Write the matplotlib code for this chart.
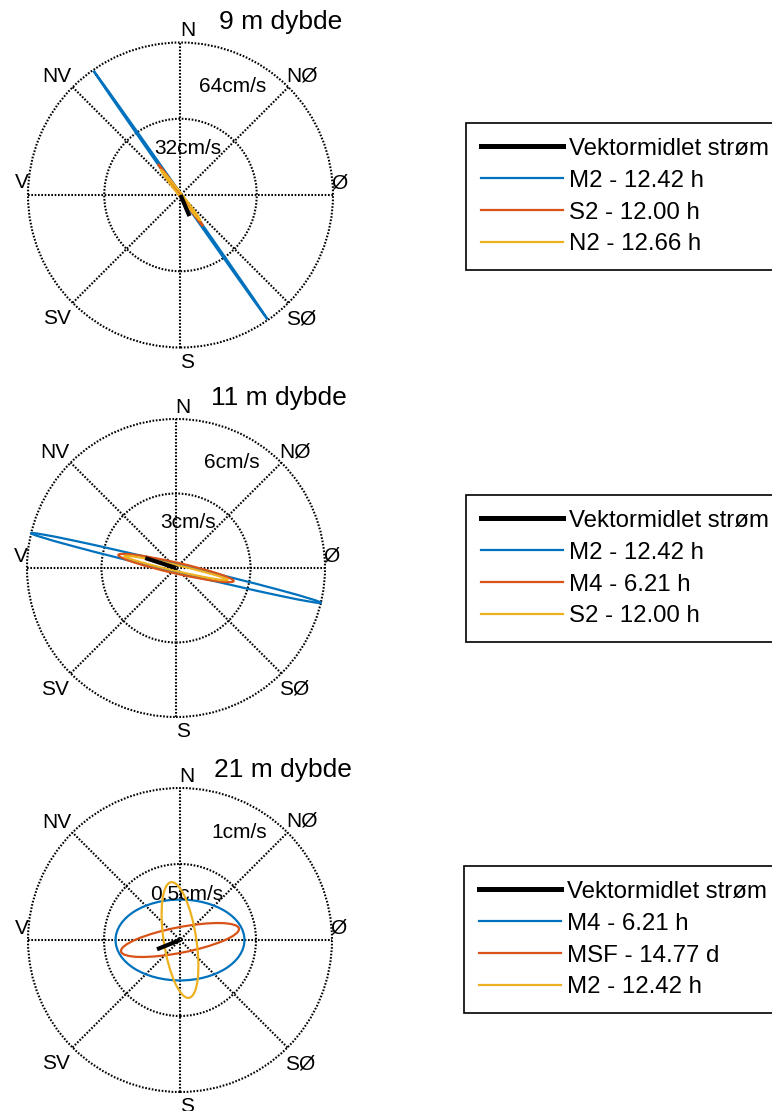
import matplotlib
matplotlib.use('Agg')
import matplotlib.pyplot as plt
import numpy as np
from matplotlib.patches import Circle, Ellipse
from matplotlib.lines import Line2D

plt.rcParams['font.family'] = ['Liberation Sans', 'DejaVu Sans']

# --- data ---
titles = ['9 m dybde', '11 m dybde', '21 m dybde']
rmax = [64, 6, 1]
ring_labels = [['64cm/s', '32cm/s'], ['6cm/s', '3cm/s'], ['1cm/s', '0.5cm/s']]

# vector mean current: speed (cm/s) and direction (deg from north, clockwise)
mean_speed = [9.6, 1.3, 0.163]
mean_dir = [157, 288, 248]

# tidal ellipses per depth: name, semi-major, semi-minor (cm/s), major axis bearing (deg)
const_names = [['M2 - 12.42 h', 'S2 - 12.00 h', 'N2 - 12.66 h'],
               ['M2 - 12.42 h', 'M4 - 6.21 h', 'S2 - 12.00 h'],
               ['M4 - 6.21 h', 'MSF - 14.77 d', 'M2 - 12.42 h']]
major = [[63.6, 16.0, 13.3], [6.0, 2.38, 2.13], [0.424, 0.395, 0.385]]
minor = [[0.4, 0.4, 0.6], [0.16, 0.22, 0.12], [0.266, 0.084, 0.107]]
bearing = [[145, 144, 142], [103.5, 102.8, 103], [90, 79, 351.2]]

compass = ['N', 'NØ', 'Ø', 'SØ', 'S', 'SV', 'V', 'NV']

# --- layout (pixels) ---
W, H = 772, 1111
centers = [(180.5, 195, 152.5), (176, 568, 149), (180, 940, 152)]
label_off = [(7, -164), (122, -119), (159, -12), (121, 124), (7, 167),
             (-124, 124), (-159, -12), (-124, -118)]
title_off = [(100.5, -173), (103, -170), (102.5, -170)]
ring_off = [[(52.5, -108), (7.5, -47)], [(56, -106), (12, -45)], [(59, -108), (7, -46)]]
legend_pos = [(466, 123), (466, 495), (464, 866)]
colors = ['#0072BD', '#D95319', '#EDB120']
dots = (0, (0.8, 0.8))

fig = plt.figure(figsize=(W / 100, H / 100), dpi=100)
fig.patch.set_facecolor('white')

for i in range(3):
    cx, cy, rp = centers[i]
    L = 185
    ax = fig.add_axes([(cx - L) / W, 1 - (cy + L) / H, 2 * L / W, 2 * L / H])
    R = rmax[i]
    lim = R * L / rp
    ax.set_xlim(-lim, lim)
    ax.set_ylim(-lim, lim)
    ax.axis('off')

    # grid
    for rr in [R, R / 2]:
        ax.add_patch(Circle((0, 0), rr, fill=False, ec='black', lw=1.5, ls=dots, zorder=1))
    for ang in [0, 45, 90, 135]:
        a = np.deg2rad(ang)
        ax.plot([-R * np.cos(a), R * np.cos(a)], [-R * np.sin(a), R * np.sin(a)],
                color='black', lw=1.5, ls=dots, zorder=1)

    # ellipses
    for k in range(3):
        ax.add_patch(Ellipse((0, 0), 2 * major[i][k], 2 * minor[i][k],
                             angle=90 - bearing[i][k], fill=False,
                             ec=colors[k], lw=1.6, zorder=2 + k))

    # mean vector
    d = np.deg2rad(mean_dir[i])
    ax.plot([0, mean_speed[i] * np.sin(d)], [0, mean_speed[i] * np.cos(d)],
            color='black', lw=3, solid_capstyle='butt', zorder=6)

    s = rp / 152.5
    for lab, (dx, dy) in zip(compass, label_off):
        ax.annotate(lab, xy=(0, 0), xytext=(dx * s * 0.72, -dy * s * 0.72),
                    textcoords='offset points', ha='center', va='center', fontsize=15)
    for lab, (dx, dy) in zip(ring_labels[i], ring_off[i]):
        ax.annotate(lab, xy=(0, 0), xytext=(dx * 0.72, -dy * 0.72),
                    textcoords='offset points', ha='center', va='center', fontsize=15)
    tx, ty = title_off[i]
    ax.annotate(titles[i], xy=(0, 0), xytext=(tx * 0.72, -ty * 0.72),
                textcoords='offset points', ha='center', va='center', fontsize=19)

    handles = [Line2D([], [], color='black', lw=3.6)]
    handles += [Line2D([], [], color=colors[k], lw=1.6) for k in range(3)]
    labels = ['Vektormidlet strøm'] + const_names[i]
    lx, ly = legend_pos[i]
    leg = fig.legend(handles, labels, loc='upper left',
                     bbox_to_anchor=(lx / W, 1 - ly / H), borderaxespad=0,
                     fontsize=17.3, handlelength=3.4, handletextpad=0.25,
                     labelspacing=0.41, borderpad=0.62, fancybox=False,
                     framealpha=1, edgecolor='black')
    leg.get_frame().set_linewidth(1.2)

fig.savefig('out.png', dpi=100, facecolor='white')
